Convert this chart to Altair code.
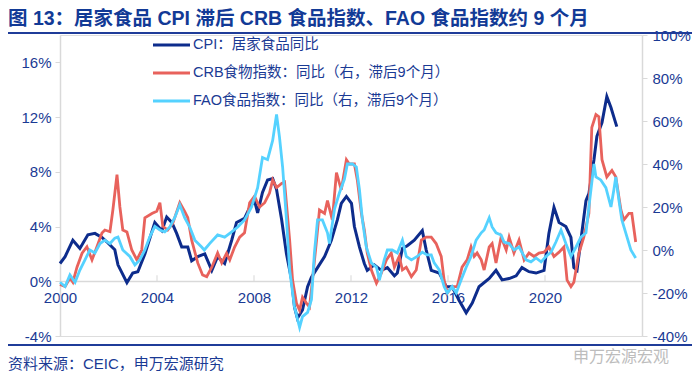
import altair as alt
import pandas as pd

# ---------------- data ----------------
cpi_year = [2000.00, 2000.21, 2000.53, 2000.82, 2001.15, 2001.44, 2001.73, 2001.98, 2002.26, 2002.39,
            2002.76, 2003.00, 2003.21, 2003.50, 2003.91, 2004.20, 2004.40, 2004.61, 2004.81, 2005.02,
            2005.27, 2005.43, 2005.68, 2005.97, 2006.26, 2006.50, 2006.79, 2007.08, 2007.28, 2007.61,
            2007.82, 2008.02, 2008.15, 2008.35, 2008.56, 2008.77, 2008.93, 2009.14, 2009.34, 2009.55,
            2009.67, 2009.79, 2010.00, 2010.21, 2010.37, 2010.62, 2010.91, 2011.19, 2011.44, 2011.60,
            2011.81, 2012.02, 2012.14, 2012.35, 2012.55, 2012.67, 2012.96, 2013.25, 2013.50, 2013.79,
            2013.91, 2014.12, 2014.32, 2014.61, 2014.94, 2015.10, 2015.31, 2015.64, 2015.93, 2016.17,
            2016.46, 2016.75, 2017.00, 2017.28, 2017.70, 2017.98, 2018.23, 2018.52, 2018.81, 2019.05,
            2019.34, 2019.63, 2019.96, 2020.16, 2020.37, 2020.58, 2020.86, 2021.07, 2021.19, 2021.32,
            2021.48, 2021.69, 2021.81, 2022.02, 2022.14, 2022.35, 2022.55, 2022.72, 2022.84, 2022.96]
cpi_val = [1.3, 1.8, 3.0, 2.4, 3.4, 3.5, 3.2, 2.8, 2.3, 1.2,
           -0.1, 0.6, 0.7, 2.0, 4.3, 3.7, 4.7, 4.3, 3.5, 2.5,
           2.5, 1.5, 1.8, 2.0, 0.8, 1.8, 1.3, 3.0, 4.3, 4.6,
           5.4, 5.9, 5.0, 6.5, 7.4, 7.5, 6.7, 4.5, 2.0, 0.1,
           -1.9, -2.7, -2.1, -0.4, 0.3, 1.0, 1.8, 3.0, 4.5, 5.7,
           6.2, 5.7, 4.0, 2.5, 1.3, 0.8, 1.2, 0.8, 1.0, 0.4,
           0.6, 2.4, 2.6, 3.0, 3.7, 2.3, 0.8, 0.6, -0.4, -0.4,
           -1.4, -2.3, -1.6, -0.4, 0.2, 0.8, 0.1, 0.2, 0.4, 1.0,
           0.7, 0.6, 0.8, 3.5, 5.4, 4.3, 4.0, 3.2, 1.0, 0.8,
           3.0, 5.9, 6.4, 8.9, 10.6, 11.6, 13.5, 12.7, 12.0, 11.3]

crb_year = [2000.00, 2000.21, 2000.41, 2000.53, 2000.70, 2000.91, 2001.11, 2001.32, 2001.52, 2001.73,
            2001.85, 2002.06, 2002.18, 2002.35, 2002.47, 2002.59, 2002.76, 2002.96, 2003.17, 2003.37,
            2003.50, 2003.79, 2003.99, 2004.12, 2004.24, 2004.44, 2004.65, 2004.94, 2005.14, 2005.27,
            2005.43, 2005.68, 2005.88, 2006.05, 2006.26, 2006.50, 2006.67, 2006.87, 2007.00, 2007.20,
            2007.41, 2007.61, 2007.82, 2008.02, 2008.23, 2008.44, 2008.64, 2008.77, 2008.93, 2009.14,
            2009.26, 2009.47, 2009.59, 2009.75, 2009.88, 2010.00, 2010.16, 2010.29, 2010.41, 2010.58,
            2010.70, 2010.91, 2011.03, 2011.23, 2011.40, 2011.60, 2011.81, 2011.93, 2012.14, 2012.26,
            2012.43, 2012.55, 2012.67, 2012.84, 2013.05, 2013.25, 2013.46, 2013.66, 2013.79, 2013.99,
            2014.12, 2014.28, 2014.49, 2014.69, 2014.90, 2015.10, 2015.31, 2015.51, 2015.72, 2015.84,
            2015.97, 2016.17, 2016.38, 2016.58, 2016.79, 2016.95, 2017.08, 2017.20, 2017.37, 2017.49,
            2017.70, 2017.82, 2017.98, 2018.19, 2018.40, 2018.52, 2018.72, 2018.93, 2019.14, 2019.34,
            2019.55, 2019.75, 2019.96, 2020.16, 2020.37, 2020.58, 2020.78, 2020.91, 2021.07, 2021.19,
            2021.40, 2021.60, 2021.81, 2021.93, 2022.10, 2022.22, 2022.35, 2022.55, 2022.76, 2022.92,
            2023.13, 2023.25, 2023.46, 2023.58, 2023.74]
crb_val = [-16, -17, -13, -15, -8, -1.5, 1.5, -4.6, 1.4, 7.9,
           9.3, 8.5, 18.6, 35, 20, 9.3, 8.4, 0, -4.6, 0,
           15, 17, 18, 22, 11, 9.3, 12.4, 22, 18, 15,
           4.6, -6, -11.6, -12.4, -8, -1.4, -6, -1.5, -4.6, 1.4,
           6, 8, 22, 25, 20, 22, 26.5, 32.6, 29, 31,
           31.6, 4.6, -14, -24.7, -28, -22, -24.7, -26.5, -14, 4.6,
           18.6, 17, 23, 14, 36, 28, 42, 40, 40, 32.6,
           17, 9.3, -1.4, -9.3, -15.5, -10.8, -4.6, -1.4, -8, -3,
           -9.3, -8, -12.4, -9.3, 4.6, 6, 6, 3, -3, -14,
           -20, -17, -17, -8, -4.6, 1.4, -3, -1.4, -4.6, -9.3,
           1.4, 3, -6, 6, 0, 6, -1.4, 4.6, -4.6, -1.4,
           -3, -1.4, -1, 1.4, -3, -1, 1.4, -14, -17, -15,
           -1.4, 6, 17, 57, 63, 62, 42, 34, 37, 34,
           18.6, 14, 17, 17, 3.7]

fao_year = [2000.00, 2000.21, 2000.41, 2000.62, 2000.82, 2001.03, 2001.23, 2001.44, 2001.65, 2001.85,
            2002.06, 2002.26, 2002.39, 2002.59, 2002.88, 2003.09, 2003.29, 2003.50, 2003.70, 2003.91,
            2004.12, 2004.32, 2004.53, 2004.73, 2004.94, 2005.14, 2005.35, 2005.56, 2005.84, 2005.95,
            2006.17, 2006.50, 2006.79, 2007.08, 2007.33, 2007.61, 2007.90, 2008.15, 2008.35, 2008.56,
            2008.77, 2008.93, 2009.05, 2009.18, 2009.34, 2009.47, 2009.67, 2009.88, 2010.00, 2010.21,
            2010.37, 2010.49, 2010.62, 2010.82, 2011.03, 2011.11, 2011.32, 2011.52, 2011.73, 2011.85,
            2012.06, 2012.22, 2012.35, 2012.47, 2012.63, 2012.84, 2013.05, 2013.17, 2013.37, 2013.50,
            2013.70, 2013.91, 2014.12, 2014.28, 2014.49, 2014.73, 2014.94, 2015.14, 2015.31, 2015.43,
            2015.64, 2015.84, 2015.97, 2016.17, 2016.34, 2016.54, 2016.75, 2016.95, 2017.16, 2017.37,
            2017.49, 2017.70, 2017.82, 2017.98, 2018.19, 2018.31, 2018.52, 2018.72, 2018.93, 2019.22,
            2019.42, 2019.63, 2019.84, 2020.04, 2020.25, 2020.45, 2020.66, 2020.86, 2021.07, 2021.28,
            2021.48, 2021.69, 2021.81, 2022.02, 2022.10, 2022.30, 2022.51, 2022.72, 2022.84, 2022.92,
            2023.05, 2023.17, 2023.33, 2023.54, 2023.74]
fao_val = [-15, -17, -11.6, -15, -9.3, -4.6, 0, -1.4, 3, 4.6,
           3, 5.5, 6, 0, -3, -7, -4.6, 0, 6, 11,
           9.3, 8.4, 10.7, 15, 21, 15, 10.7, 4.6, 1.4, 0,
           3, 7, 6, 8.4, 10.7, 14, 20, 29, 43, 42,
           51, 63, 52.6, 38.6, 14, -9.3, -26.5, -36, -31, -29,
           -23, -1.4, 14, 14, 8, 3, 19, 26.5, 33, 40,
           40, 38.6, 28, 14, 1.4, -6, -8, -14, -4.6, 0,
           0, -1.4, 4.6, -3, -4.6, -3, -1, -2.3, -2.3, -6,
           -9.3, -17, -20, -17, -20, -14, -8, -3, 4.6, 8,
           9.3, 15, 10.7, 8, 7, 3.7, 3, 0, 1.4, -4.6,
           -5.5, -3.7, -5.5, -3, -1, 3.7, 9.3, 3, -3, 1.4,
           6, 8, 20, 40, 34, 32.6, 29, 20, 28, 34,
           23, 14, 8, 0, -3.7]

series_names = ["CPI：居家食品同比",
                "CRB食物指数：同比（右，滞后9个月）",
                "FAO食品指数：同比（右，滞后9个月）"]
series_colors = ["#0d2c8c", "#e8625c", "#55d2ff"]
x_tick_years = [2000, 2004, 2008, 2012, 2016, 2020]
left_ticks = [-4, 0, 4, 8, 12, 16]
right_ticks = [-40, -20, 0, 20, 40, 60, 80, 100]

title_text = "图 13：居家食品 CPI 滞后 CRB 食品指数、FAO 食品指数约 9 个月"
source_text = "资料来源：CEIC，申万宏源研究"
watermark_text = "申万宏源宏观"

# ---------------- styling ----------------
W, H = 582, 301
FONT = "Liberation Sans, Noto Sans CJK SC"
TEXT = "#1a3a94"
AXIS_GRAY = "#d9d9d9"

cpi_df = pd.DataFrame({"year": cpi_year, "value": cpi_val})
crb_df = pd.DataFrame({"year": crb_year, "value": crb_val})
fao_df = pd.DataFrame({"year": fao_year, "value": fao_val})
tick_df = pd.DataFrame({"year": x_tick_years[1:]})

x_scale = alt.Scale(domain=[2000, 2024], nice=False, zero=False)
x_axis = alt.Axis(values=x_tick_years, format="d", ticks=False, grid=False, title=None,
                  domainColor=AXIS_GRAY, domainWidth=1.5, labelColor=TEXT, labelFont=FONT,
                  labelFontSize=15, labelPadding=9, offset=-55, labelFlush=False)

left_scale = alt.Scale(domain=[-4, 18], nice=False, zero=False)
left_axis = alt.Axis(values=left_ticks, labelExpr="datum.value + '%'", grid=False, title=None,
                     domainColor=AXIS_GRAY, domainWidth=1.5, tickColor=AXIS_GRAY, tickSize=5,
                     labelColor=TEXT, labelFont=FONT, labelFontSize=15, labelPadding=4)

right_scale = alt.Scale(domain=[-40, 100], nice=False, zero=False)
right_axis = alt.Axis(values=right_ticks, labelExpr="datum.value + '%'", grid=False, title=None,
                      orient="right", domainColor=AXIS_GRAY, domainWidth=1.5, tickColor=AXIS_GRAY,
                      tickSize=5, labelColor=TEXT, labelFont=FONT, labelFontSize=15, labelPadding=5)

X = alt.X("year:Q", scale=x_scale, axis=x_axis)

cpi_line = alt.Chart(cpi_df).mark_line(color=series_colors[0], strokeWidth=3).encode(
    x=X, y=alt.Y("value:Q", scale=left_scale, axis=left_axis))
x_ticks = alt.Chart(tick_df).mark_tick(orient="vertical", size=6, yOffset=-3,
                                       color=AXIS_GRAY, thickness=1.5).encode(
    x=X, y=alt.datum(0, scale=left_scale))
left = alt.layer(cpi_line, x_ticks)

crb_line = alt.Chart(crb_df).mark_line(color=series_colors[1], strokeWidth=2.8).encode(
    x=X, y=alt.Y("value:Q", scale=right_scale, axis=right_axis))
fao_line = alt.Chart(fao_df).mark_line(color=series_colors[2], strokeWidth=2.8).encode(
    x=X, y=alt.Y("value:Q", scale=right_scale, axis=right_axis))
right = alt.layer(crb_line, fao_line)

one = alt.Data(values=[{}])

def label(text, x, y, **kw):
    return alt.Chart(one).mark_text(text=text, align="left", baseline="middle", **kw).encode(
        x=alt.value(x), y=alt.value(y))

def hline(x1, x2, y, color, width):
    return alt.Chart(one).mark_rule(color=color, strokeWidth=width).encode(
        x=alt.value(x1), x2=alt.value(x2), y=alt.value(y))

decor = [
    label(title_text, -52, -16, font=FONT, fontSize=19.5, fontWeight="bold", color="#123a96"),
    hline(-52, 632, -2, "#1f3c99", 2),
    hline(-52, 632, 310, "#1f3c99", 2),
    label(source_text, -52, 329, font=FONT, fontSize=15, color=TEXT),
    label(watermark_text, 513, 322, font="Noto Sans CJK SC", fontSize=16, color="#bdbdbd"),
]

legend_layers = []
for i, (name, col) in enumerate(zip(series_names, series_colors)):
    yy = 10 + 28 * i
    legend_layers.append(hline(93, 130, yy, col, 3))
    legend_layers.append(label(name, 133, yy, font=FONT, fontSize=14.5, color=TEXT))

chart = alt.layer(left, right, *decor, *legend_layers).resolve_scale(y="independent").properties(
    width=W, height=H,
    autosize=alt.AutoSizeParams(type="none"),
    padding={"left": 52, "top": 27, "right": 50, "bottom": 35},
).configure_view(stroke=None).configure(background="white")

chart.save("out.html", embed_options={"renderer": "svg", "actions": False})
